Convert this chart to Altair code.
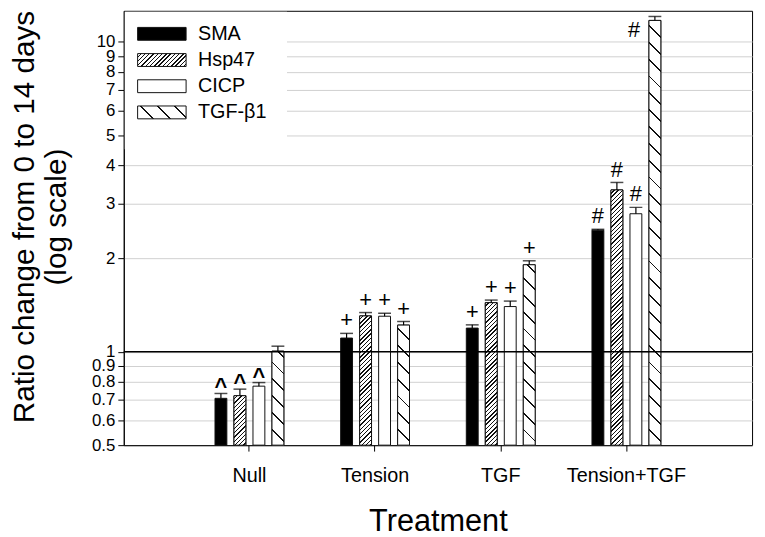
import math
import altair as alt
import pandas as pd

# ---------------- data ----------------
treatments = ["Null", "Tension", "TGF", "Tension+TGF"]
series = ["SMA", "Hsp47", "CICP", "TGF-β1"]

sma = [0.708, 1.108, 1.193, 2.47]
sma_err = [0.026, 0.039, 0.029, 0.015]
hsp47 = [0.722, 1.306, 1.441, 3.33]
hsp47_err = [0.036, 0.033, 0.028, 0.19]
cicp = [0.775, 1.303, 1.40, 2.79]
cicp_err = [0.021, 0.029, 0.058, 0.135]
tgfb1 = [1.005, 1.22, 1.91, 11.73]
tgfb1_err = [0.038, 0.033, 0.057, 0.35]

sig_sma = ["^", "+", "+", "#"]
sig_hsp47 = ["^", "+", "+", "#"]
sig_cicp = ["^", "+", "+", "#"]
sig_tgfb1 = ["", "+", "+", "#"]

y_ticks = [0.5, 0.6, 0.7, 0.8, 0.9, 1, 2, 3, 4, 5, 6, 7, 8, 9, 10]

# ---------------- layout / style ----------------
W, H = 635, 439
Y_DOMAIN = [0.5, 12.6]
BAR_W = 12
PPD = H / math.log10(Y_DOMAIN[1] / Y_DOMAIN[0])
FONT = "Liberation Sans"


def hatch(w, h, period, thick, kind):
    """Striped linear gradient (objectBoundingBox units) giving 45deg hatching."""
    L = w + h
    s = L / (w * w + h * h)
    p = period / L
    t = thick * math.sqrt(2) / L
    stops = []
    a = 0.0
    while a < 1:
        b = round(min(a + p - t, 1.0), 5)
        c = round(min(a + p, 1.0), 5)
        stops += [
            {"offset": round(a, 5), "color": "white"},
            {"offset": b, "color": "white"},
            {"offset": b, "color": "#111"},
            {"offset": c, "color": "#111"},
        ]
        a += p
    if kind == "/":
        return {"gradient": "linear", "x1": 0, "y1": 0,
                "x2": round(w * s, 5), "y2": round(h * s, 5), "stops": stops}
    return {"gradient": "linear", "x1": 0, "y1": 1,
            "x2": round(w * s, 5), "y2": round(1 - h * s, 5), "stops": stops}


HATCH = {"Hsp47": (4.3, 1.0, "/"), "TGF-β1": (17, 1.3, "\\")}

vals = {"SMA": sma, "Hsp47": hsp47, "CICP": cicp, "TGF-β1": tgfb1}
errs = {"SMA": sma_err, "Hsp47": hsp47_err, "CICP": cicp_err, "TGF-β1": tgfb1_err}
sigs = {"SMA": sig_sma, "Hsp47": sig_hsp47, "CICP": sig_cicp, "TGF-β1": sig_tgfb1}

rows = []
hatched = []
idx = 0
for i, t in enumerate(treatments):
    for s in series:
        v = vals[s][i]
        rows.append({"idx": idx, "treatment": t, "series": s, "value": v,
                     "top": v + errs[s][i], "sig": sigs[s][i]})
        if s in HATCH:
            h = (math.log10(v) - math.log10(Y_DOMAIN[0])) * PPD
            per, th, kind = HATCH[s]
            hatched.append((idx, hatch(BAR_W, h, per, th, kind)))
        idx += 1
df = pd.DataFrame(rows)

yscale = alt.Scale(type="log", domain=Y_DOMAIN, nice=False)
xscale = alt.Scale(domain=treatments, paddingInner=0.3953, paddingOuter=0.6976)
xoscale = alt.Scale(domain=series, paddingInner=0.375, paddingOuter=0.1875)

x_axis = alt.Axis(orient="bottom", title="Treatment", titleFontSize=31,
                  titleFontWeight="normal", titleBaseline="alphabetic", titleY=86,
                  labelFontSize=20, labelPadding=15, tickSize=6, labelAngle=0)
y_axis = alt.Axis(orient="left", values=y_ticks, format="~g", labelFontSize=17,
                  tickSize=6, labelPadding=3, labelOverlap=False, grid=True,
                  gridColor="#d0d0d0", gridWidth=1,
                  title=["Ratio change from 0 to 14 days", "(log scale)"],
                  titleFontSize=30, titleFontWeight="normal", titleAngle=270,
                  titleAlign="center", titleBaseline="top", titleX=-115,
                  titleY=208, titleLineHeight=32)

X = alt.X("treatment:N", sort=treatments, scale=xscale, axis=None)
XO = alt.XOffset("series:N", sort=series, scale=xoscale)
YV = alt.Y("value:Q", scale=yscale, axis=None)
YT = alt.Y("top:Q", scale=yscale, axis=None)
Y2 = alt.datum(Y_DOMAIN[0])

base = alt.Chart(df)

box = alt.Chart(pd.DataFrame({"a": [0]})).mark_rect(fill="white").encode(
    x=alt.value(1), x2=alt.value(165), y=alt.value(1), y2=alt.value(140))

bars = base.mark_bar(stroke="#111", strokeWidth=1).encode(
    x=X, xOffset=XO, y=YV, y2=Y2,
    fill=alt.condition("datum.series === 'SMA'", alt.value("black"), alt.value("white")),
)

hatch_layers = [
    base.transform_filter(f"datum.idx === {k}").mark_bar(
        fill=g, stroke="#111", strokeWidth=1).encode(x=X, xOffset=XO, y=YV, y2=Y2)
    for k, g in hatched
]

one = alt.Chart(pd.DataFrame({"v": [1]})).mark_rule(color="black", strokeWidth=1.5).encode(
    y=alt.Y("v:Q", scale=yscale, axis=None))

stem = base.mark_rule(color="black", strokeWidth=1.2).encode(
    x=X, xOffset=XO, y=YV, y2="top:Q")

cap = base.mark_tick(color="black", thickness=1.5, size=13).encode(
    x=alt.X("treatment:N", sort=treatments, scale=xscale, axis=x_axis),
    xOffset=XO,
    y=alt.Y("top:Q", scale=yscale, axis=y_axis))

txt_caret = base.transform_filter("datum.sig === '^'").mark_text(
    font=FONT, fontSize=22, fontWeight="bold", baseline="alphabetic", dy=1, color="black"
).encode(x=X, xOffset=XO, y=YT, text="sig:N")

txt_plus = base.transform_filter(
    "(datum.sig === '+' || datum.sig === '#') && datum.idx !== 15").mark_text(
    font=FONT, fontSize=22, baseline="alphabetic", dy=-6, color="black"
).encode(x=X, xOffset=XO, y=YT, text="sig:N")

txt_side = base.transform_filter("datum.idx === 15").mark_text(
    font=FONT, fontSize=22, baseline="alphabetic", dx=-21, dy=21, color="black"
).encode(x=X, xOffset=XO, y=YT, text="sig:N")

# ---------------- legend ----------------
leg = pd.DataFrame({"series": series, "li": list(range(len(series)))})
leg_conds = [
    {"test": "datum.li === 0", "value": "black"},
    {"test": "datum.li === 1", "value": hatch(49, 13, 4.3, 1.0, "/")},
    {"test": "datum.li === 3", "value": hatch(49, 13, 17, 1.3, "\\")},
]
leg_y = alt.Y("series:N", sort=series, axis=None,
              scale=alt.Scale(type="point", domain=series, range=[23.3, 102.7], padding=0))

leg_sym = alt.Chart(leg).mark_point(
    shape="M-1,-0.2653H1V0.2653H-1Z", size=2401, filled=True, opacity=1,
    stroke="#111", strokeWidth=1
).encode(x=alt.value(38.5), y=leg_y, fill=alt.value("white", condition=leg_conds))

leg_txt = alt.Chart(leg).mark_text(
    font=FONT, fontSize=20, align="left", baseline="middle", color="black"
).encode(x=alt.value(75), y=leg_y, text="series:N")

layers = [box, bars] + hatch_layers + [one, stem, cap, txt_caret, txt_plus, txt_side,
                                       leg_sym, leg_txt]

chart = alt.layer(*layers).resolve_scale(x="independent", y="independent").properties(
    width=W, height=H,
    autosize=alt.AutoSizeParams(type="none"),
    padding={"left": 117, "top": 0, "right": 5, "bottom": 90},
).configure_view(stroke="black", strokeWidth=1).configure_axis(
    labelFont=FONT, titleFont=FONT, domainColor="black", tickColor="black",
    labelColor="black", titleColor="black", domainWidth=1, tickWidth=1
)

chart.save("out.html", embed_options={"renderer": "svg", "actions": False})
